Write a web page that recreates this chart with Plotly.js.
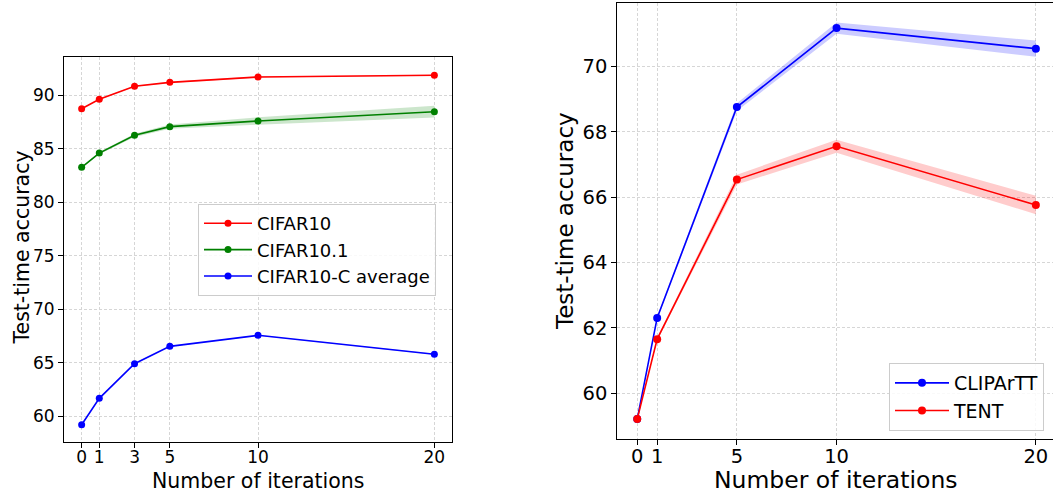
<!DOCTYPE html>
<html>
<head>
<meta charset="utf-8">
<script src="https://cdn.plot.ly/plotly-3.0.1.min.js"></script>
<style>html,body{margin:0;padding:0;background:#fff;}#chart{width:1053px;height:494px;}</style>
</head>
<body>
<div id="chart"></div>
<script>
// ---- data (left panel) ----
const itersLeft = [0, 1, 3, 5, 10, 20];
const cifar10 = [88.75, 89.63, 90.84, 91.21, 91.71, 91.87];
const cifar10Std = [0.05, 0.05, 0.05, 0.05, 0.05, 0.05];
const cifar101 = [83.27, 84.60, 86.26, 87.07, 87.60, 88.47];
const cifar101Std = [0.05, 0.10, 0.15, 0.20, 0.35, 0.55];
const cifar10c = [59.21, 61.68, 64.92, 66.54, 67.57, 65.80];
const cifar10cStd = [0.04, 0.04, 0.04, 0.04, 0.04, 0.04];
const leftTicks = [0, 1, 3, 5, 10, 20];
const leftYTicks = [60, 65, 70, 75, 80, 85, 90];

// ---- data (right panel) ----
const itersRight = [0, 1, 5, 10, 20];
const clipartt = [59.20, 62.30, 68.76, 71.18, 70.55];
const clipStd = [0.0, 0.05, 0.12, 0.17, 0.25];
const tent = [59.20, 61.65, 66.54, 67.56, 65.76];
const tentStd = [0.0, 0.05, 0.15, 0.20, 0.28];
const rightTicks = [0, 1, 5, 10, 20];
const rightYTicks = [60, 62, 64, 66, 68, 70];

const FONT = 'DejaVu Sans, sans-serif';

function band(x, y, s, color, xa, ya) {
  const up = y.map((v, i) => v + s[i]);
  const lo = y.map((v, i) => v - s[i]);
  return [
    {x: x, y: lo, xaxis: xa, yaxis: ya, mode: 'lines', line: {width: 0}, showlegend: false, hoverinfo: 'skip'},
    {x: x, y: up, xaxis: xa, yaxis: ya, mode: 'lines', line: {width: 0}, fill: 'tonexty', fillcolor: color, showlegend: false, hoverinfo: 'skip'}
  ];
}
function line(x, y, name, color, xa, ya, legend, msize) {
  return {x: x, y: y, xaxis: xa, yaxis: ya, name: name, mode: 'lines+markers',
    line: {color: color, width: 1.6}, marker: {color: color, size: msize}, legend: legend};
}

const traces = [].concat(
  band(itersLeft, cifar10, cifar10Std, 'rgba(255,0,0,0.2)', 'x', 'y'),
  band(itersLeft, cifar101, cifar101Std, 'rgba(0,128,0,0.2)', 'x', 'y'),
  band(itersLeft, cifar10c, cifar10cStd, 'rgba(0,0,255,0.2)', 'x', 'y'),
  [line(itersLeft, cifar10, 'CIFAR10', '#ff0000', 'x', 'y', 'legend', 7),
   line(itersLeft, cifar101, 'CIFAR10.1', '#008000', 'x', 'y', 'legend', 7),
   line(itersLeft, cifar10c, 'CIFAR10-C average', '#0000ff', 'x', 'y', 'legend', 7)],
  band(itersRight, clipartt, clipStd, 'rgba(0,0,255,0.2)', 'x2', 'y2'),
  band(itersRight, tent, tentStd, 'rgba(255,0,0,0.2)', 'x2', 'y2'),
  [line(itersRight, clipartt, 'CLIPArTT', '#0000ff', 'x2', 'y2', 'legend2', 8),
   line(itersRight, tent, 'TENT', '#ff0000', 'x2', 'y2', 'legend2', 8)]
);

const W = 1053, H = 494;
const gridStyle = {showgrid: true, gridcolor: '#d6d6d6', griddash: '3px,2px', gridwidth: 1,
  zeroline: false, showline: true, linecolor: '#000', linewidth: 1, ticks: 'outside',
  ticklen: 5, tickcolor: '#000', tickwidth: 1};

const layout = {
  width: W, height: H,
  margin: {l: 0, r: 0, t: 0, b: 0},
  paper_bgcolor: '#fff', plot_bgcolor: '#fff',
  font: {family: FONT, color: '#000'},
  showlegend: true,
  xaxis: Object.assign({}, gridStyle, {domain: [64 / W, 452 / W], range: [-1, 21],
    tickvals: leftTicks, ticktext: leftTicks.map(String), mirror: true, anchor: 'y',
    tickfont: {size: 17, family: FONT}, ticklabelstandoff: -5}),
  yaxis: Object.assign({}, gridStyle, {domain: [1 - 442 / H, 1 - 57 / H], range: [57.6, 93.58],
    tickvals: leftYTicks, mirror: true, anchor: 'x', tickfont: {size: 17, family: FONT}}),
  xaxis2: Object.assign({}, gridStyle, {domain: [617.3 / W, 1], range: [-1, 20.86],
    tickvals: rightTicks, ticktext: rightTicks.map(String), mirror: true, anchor: 'y2',
    tickfont: {size: 19.5, family: FONT}, ticklabelstandoff: -5}),
  yaxis2: Object.assign({}, gridStyle, {domain: [1 - 438.7 / H, 1 - 3.3 / H], range: [58.6, 71.94],
    tickvals: rightYTicks, mirror: false, anchor: 'x2', tickfont: {size: 19.5, family: FONT}}),
  legend: {x: 198 / W, y: 1 - 204 / H, xanchor: 'left', yanchor: 'top', traceorder: 'normal',
    bgcolor: 'rgba(255,255,255,0.85)', bordercolor: '#cccccc', borderwidth: 1,
    font: {size: 18, family: FONT}, itemwidth: 48, tracegroupgap: 0},
  legend2: {x: 889 / W, y: 1 - 363 / H, xanchor: 'left', yanchor: 'top', traceorder: 'normal',
    bgcolor: 'rgba(255,255,255,0.85)', bordercolor: '#cccccc', borderwidth: 1,
    font: {size: 19, family: FONT}, itemwidth: 54, tracegroupgap: 0},
  annotations: [
    {text: 'Number of iterations', xref: 'paper', yref: 'paper', x: 258 / W, y: 1 - 481 / H,
     xanchor: 'center', yanchor: 'middle', showarrow: false, font: {size: 20.5, family: FONT}},
    {text: 'Test-time accuracy', xref: 'paper', yref: 'paper', x: 21 / W, y: 1 - 247.5 / H,
     xanchor: 'center', yanchor: 'middle', showarrow: false, textangle: -90, font: {size: 20.5, family: FONT}},
    {text: 'Number of iterations', xref: 'paper', yref: 'paper', x: 836 / W, y: 1 - 480 / H,
     xanchor: 'center', yanchor: 'middle', showarrow: false, font: {size: 23.5, family: FONT}},
    {text: 'Test-time accuracy', xref: 'paper', yref: 'paper', x: 565 / W, y: 1 - 221 / H,
     xanchor: 'center', yanchor: 'middle', showarrow: false, textangle: -90, font: {size: 23, family: FONT}}
  ]
};

Plotly.newPlot('chart', traces, layout, {displayModeBar: false, staticPlot: true});
</script>
</body>
</html>
